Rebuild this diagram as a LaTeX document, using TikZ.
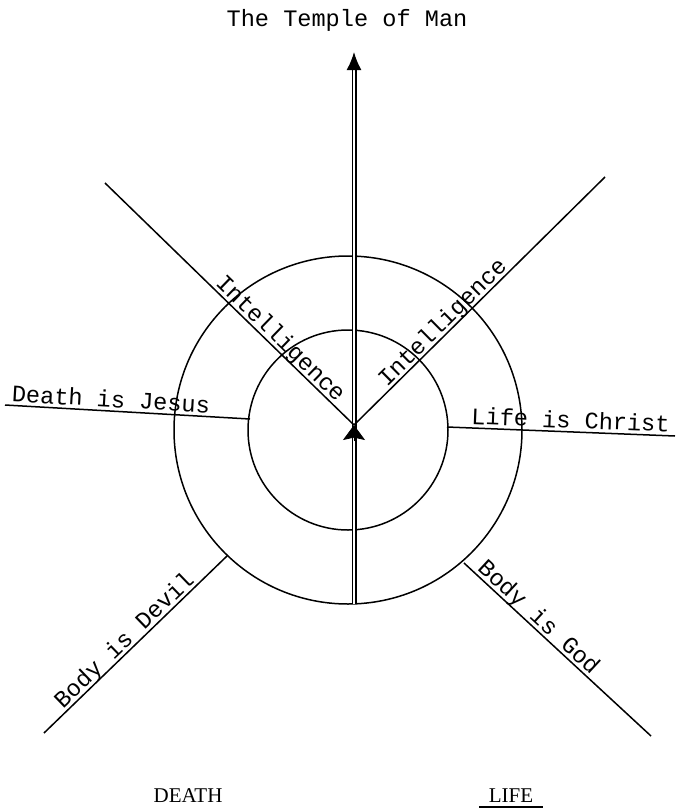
\documentclass[tikz,border=0pt]{standalone}
\usepackage{fontspec}
\setmainfont{Liberation Serif}
\newfontfamily\typer{Liberation Mono}
\usetikzlibrary{arrows.meta,calc}

\begin{document}
\begin{tikzpicture}[x=0.5pt,y=-0.5pt,
  every node/.style={inner sep=1.5pt},
  ring/.style={line width=0.75pt},
  spoke/.style={line width=0.75pt},
  axis/.style={line width=0.8pt, double, double distance=0.9pt},
  say/.style={font={\fontsize{11.8}{14}\typer}, text depth=0pt},
  caps/.style={font={\fontsize{10.5}{12}\selectfont}}
]
  \useasboundingbox (0,0) rectangle (676,809);

  % Centre and ends of the spokes
  \coordinate (c)    at (354,425);
  \coordinate (cb)   at (354,441);
  \coordinate (top)  at (354,52);
  \coordinate (bot)  at (354,604);
  \coordinate (ul)   at (105,183);
  \coordinate (ur)   at (605,177);
  \coordinate (wl)   at (5,405);
  \coordinate (wlin) at (250,419);
  \coordinate (elin) at (447,427);
  \coordinate (el)   at (675,436);
  \coordinate (ll)   at (44,733);
  \coordinate (llin) at (227,556);
  \coordinate (lrin) at (464,563);
  \coordinate (lr)   at (651,736);

  % Circles
  \draw[ring] (348,430) circle[radius=50pt];
  \draw[ring] (348,430) circle[radius=87pt];

  % Upright axis
  \draw[axis, -{Latex[length=9pt,width=7.5pt]}] (bot) -- (top);
  \draw[-{Stealth[length=7.5pt,width=11pt,inset=1.2pt]}] (cb) -- (c);

  % Spokes
  \draw[spoke] (ul) -- (c) node[say, pos=.675, sloped, above] {Intelligence};
  \draw[spoke] (c) -- (ur) node[say, pos=.383, sloped, above] {Intelligence};
  \draw[spoke] (wl) -- (wlin) node[say, pos=.43, sloped, above] {Death is Jesus};
  \draw[spoke] (elin) -- (el) node[say, pos=.54, sloped, above] {Life is Christ};
  \draw[spoke] (ll) -- (llin) node[say, pos=.48, sloped, above] {Body is Devil};
  \draw[spoke] (lrin) -- (lr) node[say, pos=.36, sloped, above] {Body is God};

  % Titles
  \node[say, anchor=base] (temple) at (347,26) {The Temple of Man};
  \node[caps, anchor=base] (death) at (188,802) {DEATH};
  \node[caps, anchor=base] (life) at (511,802) {LIFE};
  \draw[line width=0.8pt] ([xshift=-3pt,yshift=-2.5pt]life.base west)
    -- ([xshift=3pt,yshift=-2.5pt]life.base east);
\end{tikzpicture}
\end{document}
